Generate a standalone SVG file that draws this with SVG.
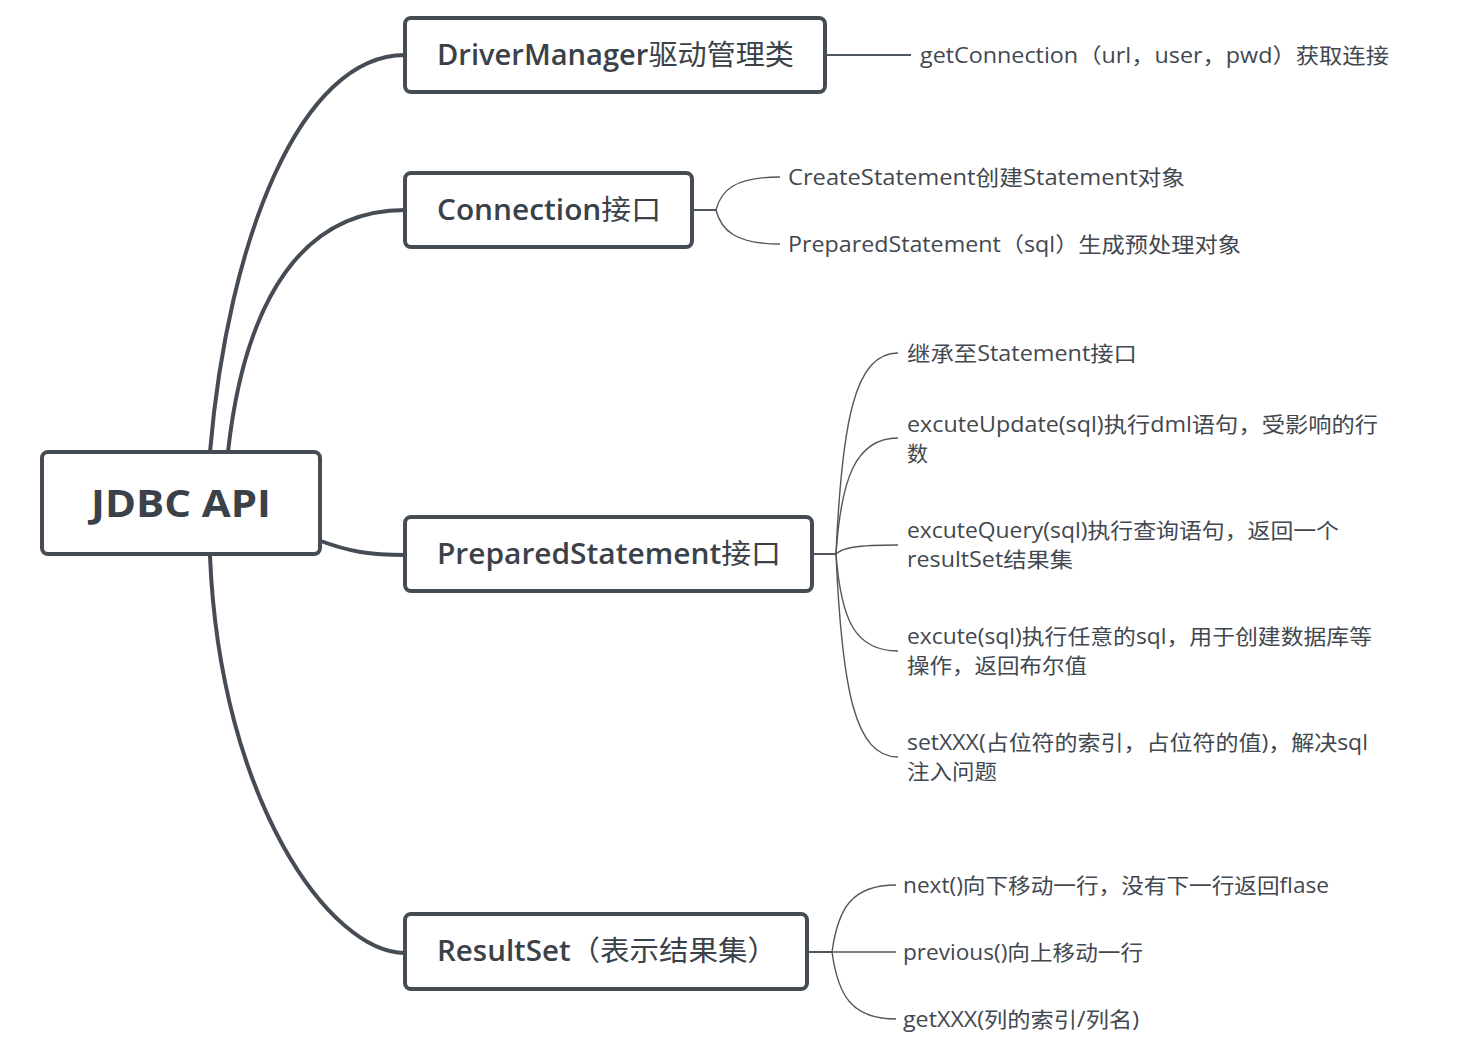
<svg xmlns="http://www.w3.org/2000/svg" width="1474" height="1055" viewBox="0 0 1474 1055">
<style>
.box{fill:#ffffff;stroke:#454c54;stroke-width:4}
.main{stroke:#454c54;stroke-width:4;fill:none;stroke-linecap:round}
.stub{stroke:#50575e;stroke-width:2;fill:none}
.sub{stroke:#50575e;stroke-width:1.4;fill:none}
.t1{font-family:"Open Sans","Noto Sans CJK SC",sans-serif;font-size:28px;font-weight:600;fill:#3b4148}
.cjk{font-weight:400}
.t0{font-family:"Open Sans","Noto Sans CJK SC",sans-serif;font-size:38px;font-weight:bold;fill:#3b4148}
.t2{font-family:"Open Sans","Noto Sans CJK SC",sans-serif;font-size:21px;fill:#42484f}
</style>
<rect width="1474" height="1055" fill="#ffffff"/>
<g id="connectors">
<path class="main" d="M210,452 C228,240 300,55 405,55"/>
<path class="main" d="M228,452 C238,360 272,210 405,210"/>
<path class="main" d="M318,540 C350,552 370,555 405,555"/>
<path class="main" d="M210,556 C220,800 330,953 405,953"/>
<path class="stub" d="M825,55 H911"/>
<path class="stub" d="M692,210 H716"/>
<path class="sub" d="M716,210 C721,190 735,177 780,177"/>
<path class="sub" d="M716,210 C721,230 735,244 780,244"/>
<path class="stub" d="M812,554 H836"/>
<path class="sub" d="M836,554 C842,420 855,353 898,353"/>
<path class="sub" d="M836,554 C841,480 855,438 898,438"/>
<path class="sub" d="M836,554 C842,548 855,545 898,545"/>
<path class="sub" d="M836,554 C841,620 855,651 898,651"/>
<path class="sub" d="M836,554 C842,690 855,757 898,757"/>
<path class="stub" d="M807,952 H832"/>
<path class="sub" d="M832,952 C838,908 852,885 896,885"/>
<path class="sub" d="M832,952 H896"/>
<path class="sub" d="M832,952 C838,996 852,1019 896,1019"/>
</g>
<g id="root">
<rect class="box" x="42" y="452" width="278" height="102" rx="6"/>
<text class="t0" x="91" y="517" textLength="180" lengthAdjust="spacingAndGlyphs">JDBC API</text>
</g>
<g id="drivermanager">
<rect class="box" x="405" y="18" width="420" height="74" rx="6"/>
<text class="t1" x="437" y="65" textLength="357" lengthAdjust="spacingAndGlyphs">DriverManager<tspan class="cjk">驱动管理类</tspan></text>
</g>
<g id="connection">
<rect class="box" x="405" y="173" width="287" height="74" rx="6"/>
<text class="t1" x="437" y="220" textLength="224" lengthAdjust="spacingAndGlyphs">Connection<tspan class="cjk">接口</tspan></text>
</g>
<g id="preparedstatement">
<rect class="box" x="405" y="517" width="407" height="74" rx="6"/>
<text class="t1" x="437" y="564" textLength="344" lengthAdjust="spacingAndGlyphs">PreparedStatement<tspan class="cjk">接口</tspan></text>
</g>
<g id="resultset">
<rect class="box" x="405" y="914" width="402" height="75" rx="6"/>
<text class="t1" x="437" y="961" textLength="340" lengthAdjust="spacingAndGlyphs">ResultSet<tspan class="cjk">（表示结果集）</tspan></text>
</g>
<g id="dm-getconnection">
<text class="t2" x="920" y="63" textLength="469" lengthAdjust="spacingAndGlyphs">getConnection（url，user，pwd）获取连接</text>
</g>
<g id="conn-create">
<text class="t2" x="788" y="185" textLength="397" lengthAdjust="spacingAndGlyphs">CreateStatement创建Statement对象</text>
</g>
<g id="conn-prepared">
<text class="t2" x="788" y="252" textLength="453" lengthAdjust="spacingAndGlyphs">PreparedStatement（sql）生成预处理对象</text>
</g>
<g id="ps-inherit">
<text class="t2" x="907" y="361" textLength="230" lengthAdjust="spacingAndGlyphs">继承至Statement接口</text>
</g>
<g id="ps-update">
<text class="t2" x="907" y="432" textLength="471" lengthAdjust="spacingAndGlyphs">excuteUpdate(sql)执行dml语句，受影响的行</text>
<text class="t2" x="907" y="461">数</text>
</g>
<g id="ps-query">
<text class="t2" x="907" y="538" textLength="432" lengthAdjust="spacingAndGlyphs">excuteQuery(sql)执行查询语句，返回一个</text>
<text class="t2" x="907" y="567" textLength="166" lengthAdjust="spacingAndGlyphs">resultSet结果集</text>
</g>
<g id="ps-execute">
<text class="t2" x="907" y="644" textLength="465" lengthAdjust="spacingAndGlyphs">excute(sql)执行任意的sql，用于创建数据库等</text>
<text class="t2" x="907" y="673" textLength="180" lengthAdjust="spacingAndGlyphs">操作，返回布尔值</text>
</g>
<g id="ps-set">
<text class="t2" x="907" y="750" textLength="461" lengthAdjust="spacingAndGlyphs">setXXX(占位符的索引，占位符的值)，解决sql</text>
<text class="t2" x="907" y="779" textLength="90" lengthAdjust="spacingAndGlyphs">注入问题</text>
</g>
<g id="rs-next">
<text class="t2" x="903" y="893" textLength="426" lengthAdjust="spacingAndGlyphs">next()向下移动一行，没有下一行返回flase</text>
</g>
<g id="rs-previous">
<text class="t2" x="903" y="960" textLength="240" lengthAdjust="spacingAndGlyphs">previous()向上移动一行</text>
</g>
<g id="rs-get">
<text class="t2" x="903" y="1027" textLength="236" lengthAdjust="spacingAndGlyphs">getXXX(列的索引/列名)</text>
</g>
</svg>
